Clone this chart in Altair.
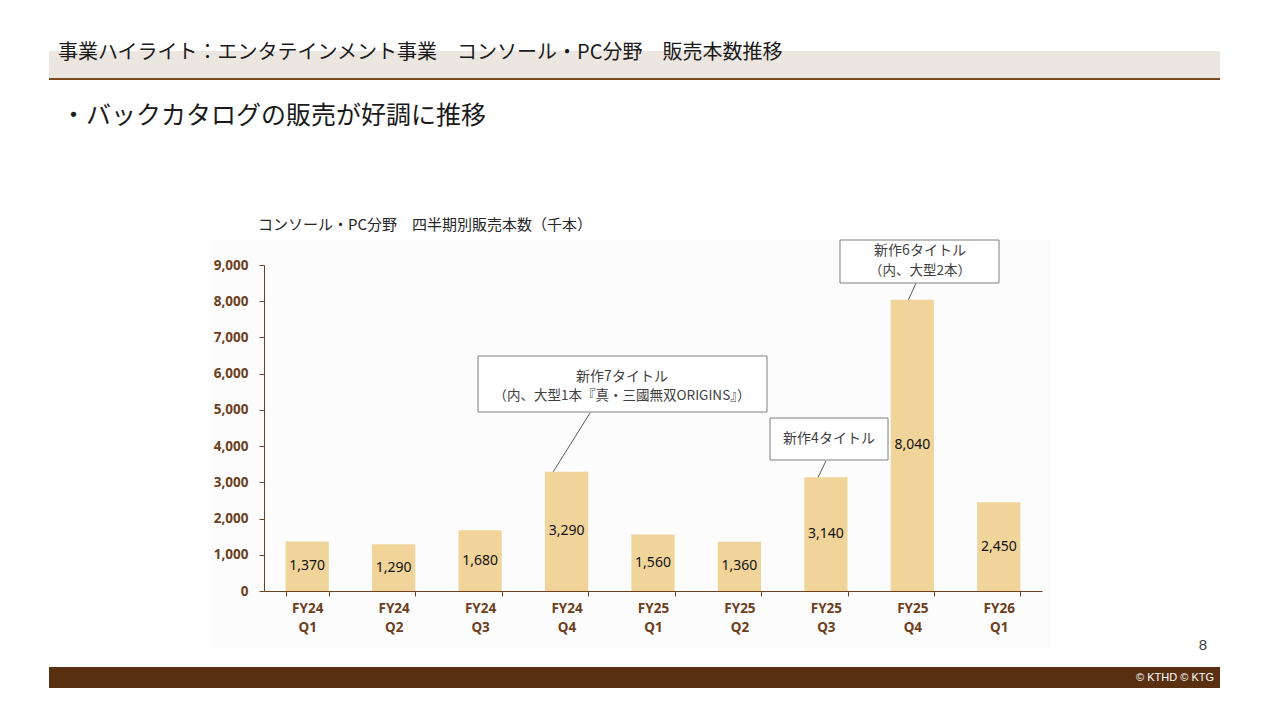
import altair as alt
import pandas as pd

# ---- data ----
quarters = ["FY24 Q1", "FY24 Q2", "FY24 Q3", "FY24 Q4", "FY25 Q1", "FY25 Q2", "FY25 Q3", "FY25 Q4", "FY26 Q1"]
units = [1370, 1290, 1680, 3290, 1560, 1360, 3140, 8040, 2450]

ann_quarters = ["FY24 Q4", "FY25 Q3", "FY25 Q4"]
ann_line1 = ["新作7タイトル", "新作4タイトル", "新作6タイトル"]
ann_line2 = ["（内、大型1本『真・三國無双ORIGINS』）", "", "（内、大型2本）"]

page_title = "事業ハイライト：エンタテインメント事業　コンソール・PC分野　販売本数推移"
subtitle = "・バックカタログの販売が好調に推移"
chart_title = "コンソール・PC分野　四半期別販売本数（千本）"
page_no = "8"
copyright_txt = "© KTHD © KTG"

df = pd.DataFrame({"q": quarters, "v": units})
df_ann = pd.DataFrame({"q": ann_quarters, "t1": ann_line1, "t2": ann_line2})
df_ann = df_ann.merge(df, on="q")

BROWN = "#6b4020"
BAR = "#f0d49a"
JP = "Noto Sans CJK JP"
LAT = "Noto Sans"

x_axis = alt.Axis(title=None, labelExpr="split(datum.label, ' ')", labelColor=BROWN,
                  labelFont=LAT, labelFontSize=13.5, labelFontWeight="bold", labelLineHeight=19,
                  labelPadding=5, domainColor=BROWN, tickColor=BROWN, tickSize=5,
                  tickBand="extent", labelAngle=0, grid=False, zindex=1)
y_axis = alt.Axis(title=None, labelExpr="format(datum.value, ',.0f')",
                  values=list(range(0, 9001, 1000)), labelColor=BROWN,
                  labelFont=LAT, labelFontSize=13.5, labelFontWeight="bold", labelPadding=11,
                  domainColor=BROWN, tickColor=BROWN, tickSize=5, grid=False, zindex=1)
x_scale = alt.Scale(paddingInner=0.5, paddingOuter=0.25)
y_scale = alt.Scale(domain=[0, 9000], nice=False)

one = pd.DataFrame({"a": [0]})


def rect(x, x2, y, y2, color, stroke=None):
    kw = {"fill": color}
    if stroke:
        kw.update(stroke=stroke, strokeWidth=1)
    return alt.Chart(one).mark_rect(**kw).encode(
        x=alt.value(x), x2=alt.value(x2), y=alt.value(y), y2=alt.value(y2))


def label(txt, x, y, size, color="#222222", align="left", font=JP, weight="normal"):
    return alt.Chart(one).mark_text(text=txt, fontSize=size, color=color, align=align,
                                    baseline="middle", font=font, fontWeight=weight).encode(
        x=alt.value(x), y=alt.value(y))


layers = []
# faint chart background panel
layers.append(rect(-54, 786, -25, 383, "#fcfcfc"))
# header band + line
layers.append(rect(-215, 956, -214, -187, "#ebe6e0"))
layers.append(rect(-215, 956, -187, -185, "#7b4a1c"))
layers.append(label(page_title, -206, -212, 20, "#1a1a1a"))
layers.append(label(subtitle, -203, -149, 25, "#1a1a1a"))
layers.append(label(chart_title, -6, -40, 15, "#262626"))
# footer
layers.append(rect(-215, 956, 402, 423, "#5a3012"))
layers.append(label(copyright_txt, 950, 413, 11, "#ffffff", align="right", font="Liberation Sans"))
layers.append(label(page_no, 939, 380, 15, "#404040", align="center", font="Liberation Sans"))

# bars
bars = alt.Chart(df).mark_bar(color=BAR).encode(
    x=alt.X("q:N", sort=quarters, scale=x_scale, axis=x_axis),
    y=alt.Y("v:Q", scale=y_scale, axis=y_axis),
)
layers.append(bars)
vals = alt.Chart(df).transform_calculate(mid="datum.v / 2").mark_text(
    fontSize=14, font=LAT, color="#111111", baseline="middle").encode(
    x=alt.X("q:N", sort=quarters, axis=x_axis),
    y=alt.Y("mid:Q", axis=y_axis),
    text=alt.Text("v:Q", format=","),
)
layers.append(vals)

# annotations: (band position of leader foot, box x, x2, y, y2, leader top x, y, text x, y1, y2)
ann_style = [
    (0.19, 214, 503, 91, 147, 326, 148, 358, 112, 131),
    (0.32, 506, 624, 153, 195, 562, 196, 565, 174, None),
    (0.41, 576, 735, -25, 18, 652, 18, 656, -14, 6),
]
for i, st in enumerate(ann_style):
    bp, bx, bx2, by, by2, lx, ly, tx, ty1, ty2 = st
    sub = df_ann[df_ann["q"] == ann_quarters[i]]
    layers.append(alt.Chart(sub).mark_rule(color="#595959", strokeWidth=1).encode(
        x=alt.X("q:N", sort=quarters, bandPosition=bp, axis=x_axis),
        y=alt.Y("v:Q", axis=y_axis),
        x2=alt.value(lx), y2=alt.value(ly)))
    layers.append(rect(bx, bx2, by, by2, "#ffffff", stroke="#7f7f7f"))
    layers.append(alt.Chart(sub).mark_text(fontSize=14, font=JP, color="#404040",
                                           baseline="middle", align="center").encode(
        x=alt.value(tx), y=alt.value(ty1), text="t1:N"))
    if ty2 is not None:
        layers.append(alt.Chart(sub).mark_text(fontSize=13.5, font=JP, color="#404040",
                                               baseline="middle", align="center").encode(
            x=alt.value(tx), y=alt.value(ty2), text="t2:N"))

chart = alt.layer(*layers).properties(
    width=778, height=326,
    padding={"left": 256, "top": 257, "right": 212, "bottom": 111},
    autosize=alt.AutoSizeParams(type="none"),
    background="#ffffff",
).configure_view(stroke=None)

chart.save("out.html", embed_options={"renderer": "svg", "actions": False})
